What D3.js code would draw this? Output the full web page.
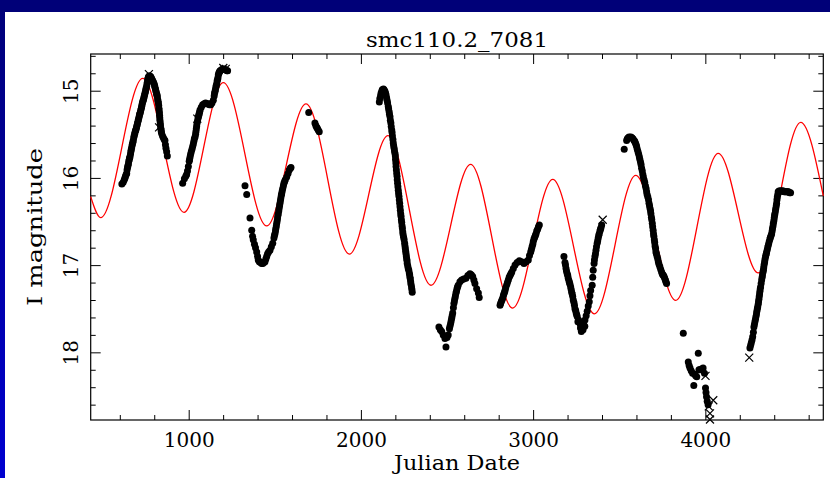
<!DOCTYPE html>
<html><head><meta charset="utf-8">
<script src="https://cdn.jsdelivr.net/npm/d3@7"></script>
<style>
body{margin:0;background:#fff;}
svg{display:block;}
text{font-family:"DejaVu Serif",serif;fill:#000;}
</style>
</head><body>
<svg id="chart" width="830" height="478"></svg>
<script>
const chartTitle = "smc110.2_7081";
const xLabel = "Julian Date";
const yLabel = "I magnitude";
const xMajorTicks = [1000, 2000, 3000, 4000];
const yMajorTicks = [15, 16, 17, 18];
const xDomain = [431, 4685];
const yDomain = [14.579, 18.776];

// model curve extrema (red line)
const modelJD  = [431, 489, 733, 973, 1201, 1453, 1681, 1933, 2157, 2407, 2637, 2881, 3114, 3356, 3596, 3828, 4075, 4307, 4554, 4685];
const modelMag = [16.215, 16.456, 14.858, 16.394, 14.908, 16.551, 15.152, 16.873, 15.516, 17.231, 15.844, 17.492, 16.016, 17.558, 15.970, 17.404, 15.718, 17.090, 15.362, 16.207];

// observations, one array per season: [JD, I mag]
const season1 = [[612,16.07],[620,16.05],[626,16.02],[633,15.98],[640,15.95],[645,15.88],[650,15.84],[655,15.79],[659,15.76],[664,15.70],[668,15.66],[673,15.61],[678,15.57],[683,15.52],[688,15.48],[693,15.45],[698,15.41],[703,15.37],[708,15.33],[713,15.29],[717,15.26],[722,15.22],[727,15.18],[731,15.14],[736,15.11],[741,15.07],[746,15.03],[751,14.99],[756,14.95],[760,14.90],[765,14.85],[770,14.83],[775,14.83],[780,14.84],[785,14.86],[790,14.88],[795,14.90],[799,14.92],[804,14.96],[809,15.00],[814,15.04],[818,15.07],[822,15.12],[826,15.17],[828,15.22],[831,15.28],[833,15.34],[836,15.40],[840,15.45],[843,15.49],[848,15.52],[853,15.54],[858,15.56],[862,15.57],[865,15.62],[868,15.66],[872,15.70],[876,15.75],
  [630,16.00],[637,15.96],[642,15.91],[647,15.86],[652,15.81],[657,15.77],[662,15.73],[666,15.68],[671,15.63],[676,15.59],[681,15.54],[686,15.50],[691,15.46],[696,15.43],[701,15.39],[706,15.35],[711,15.31],[715,15.27],[720,15.24],[725,15.20],[729,15.16],[734,15.12],[739,15.09],[744,15.05],[749,15.01],[753,14.97],[758,14.92],[762,14.87],[767,14.84],[802,14.94],[807,14.98],[812,15.02],[816,15.05],[820,15.10],[824,15.14],[827,15.20],[830,15.25],[832,15.31],[835,15.37],[838,15.43],[841,15.47]];
const season2 = [[965,16.06],[975,16.01],[983,15.98],[988,15.96],[993,15.92],[998,15.87],[1003,15.81],[1008,15.76],[1015,15.70],[1023,15.64],[1030,15.58],[1037,15.53],[1042,15.47],[1046,15.41],[1051,15.35],[1056,15.30],[1061,15.26],[1066,15.22],[1073,15.19],[1081,15.16],[1090,15.15],[1098,15.14],[1105,15.15],[1113,15.15],[1120,15.16],[1128,15.16],[1135,15.14],[1143,15.11],[1148,15.06],[1153,15.01],[1158,14.96],[1163,14.92],[1168,14.87],[1172,14.82],[1177,14.79],[1182,14.77],[1190,14.76],[1198,14.75],[1206,14.75],[1214,14.76],[1222,14.77],[1226,14.77],
  [1005,15.79],[1011,15.73],[1019,15.67],[1027,15.61],[1033,15.55],[1040,15.50],[1044,15.44],[1048,15.38],[1054,15.32],[1059,15.28],[1064,15.24],[1150,15.03],[1155,14.99],[1160,14.94],[1165,14.89],[1170,14.85],[1175,14.80],[1180,14.78]];
const season3 = [[1327,16.09],[1337,16.19],[1356,16.46],[1366,16.60],[1371,16.67],[1375,16.71],[1382,16.76],[1388,16.80],[1395,16.85],[1400,16.90],[1404,16.94],[1410,16.96],[1417,16.97],[1424,16.98],[1430,16.98],[1437,16.97],[1443,16.96],[1448,16.93],[1453,16.90],[1458,16.87],[1464,16.85],[1472,16.83],[1480,16.79],[1488,16.75],[1495,16.69],[1501,16.64],[1506,16.58],[1511,16.52],[1516,16.46],[1520,16.41],[1525,16.35],[1530,16.29],[1535,16.23],[1540,16.18],[1546,16.12],[1553,16.06],[1561,16.02],[1569,15.99],[1577,15.95],[1584,15.91],[1590,15.89],[1594,15.88],
  [1498,16.66],[1504,16.61],[1509,16.55],[1514,16.49],[1518,16.43],[1523,16.38],[1528,16.32],[1533,16.26],[1538,16.20],[1543,16.15],[1550,16.09],[1557,16.04]];
const season4 = [[1697,15.25],[1733,15.37],[1738,15.40],[1743,15.42],[1747,15.43],[1752,15.45],[1758,15.47]];
const season5 = [[2107,15.13],[2114,15.06],[2121,15.01],[2127,14.99],[2134,14.99],[2140,15.01],[2146,15.05],[2152,15.11],[2159,15.18],[2164,15.24],[2169,15.30],[2174,15.37],[2179,15.45],[2183,15.52],[2188,15.60],[2193,15.66],[2198,15.72],[2201,15.79],[2204,15.87],[2208,15.95],[2211,16.02],[2215,16.10],[2219,16.18],[2223,16.25],[2227,16.33],[2231,16.41],[2235,16.48],[2239,16.55],[2243,16.62],[2248,16.68],[2254,16.75],[2258,16.81],[2262,16.87],[2266,16.93],[2269,16.98],[2275,17.04],[2281,17.09],[2285,17.14],[2289,17.19],[2294,17.25],[2298,17.31],
  [2110,15.09],[2117,15.03],[2124,14.99],[2131,14.98],[2137,15.00],[2143,15.03],[2149,15.08],[2155,15.14],[2161,15.21],[2166,15.27],[2171,15.34],[2176,15.41],[2181,15.48],[2186,15.56],[2190,15.63],[2195,15.69],[2200,15.75],[2203,15.83],[2206,15.91],[2210,15.98],[2213,16.06],[2217,16.14],[2221,16.21],[2225,16.29],[2229,16.37],[2233,16.44],[2237,16.51],[2241,16.58],[2245,16.65],[2251,16.71],[2256,16.78],[2260,16.84],[2264,16.90],[2268,16.95],[2272,17.01],[2278,17.06],[2283,17.11],[2287,17.16],[2291,17.22],[2296,17.28]];
const season6 = [[2453,17.71],[2461,17.74],[2469,17.76],[2478,17.80],[2488,17.84],[2494,17.94],[2500,17.83],[2507,17.80],[2514,17.73],[2521,17.67],[2527,17.61],[2533,17.55],[2537,17.49],[2540,17.44],[2546,17.38],[2552,17.32],[2558,17.27],[2565,17.23],[2575,17.19],[2585,17.17],[2597,17.16],[2610,17.15],[2621,17.12],[2633,17.10],[2641,17.11],[2649,17.13],[2656,17.17],[2662,17.21],[2672,17.27],[2682,17.32],[2687,17.37],
  [2517,17.70],[2524,17.64],[2530,17.58],[2543,17.41],[2549,17.35],[2555,17.30],[2561,17.25]];
const season7 = [[2808,17.46],[2815,17.42],[2823,17.38],[2830,17.33],[2837,17.29],[2846,17.23],[2856,17.17],[2866,17.12],[2876,17.08],[2885,17.04],[2895,17.00],[2907,16.97],[2920,16.95],[2933,16.96],[2947,16.98],[2960,16.96],[2972,16.94],[2979,16.89],[2986,16.85],[2994,16.79],[3001,16.73],[3009,16.68],[3017,16.64],[3026,16.59],[3036,16.54],
  [2811,17.44],[2819,17.40],[2827,17.35],[2834,17.31],[2841,17.26],[2851,17.20],[2861,17.14],[2871,17.10],[2990,16.82],[2998,16.76],[3005,16.70],[3013,16.66],[3021,16.61],[3031,16.56]];
const season8 = [[3179,16.90],[3185,16.97],[3191,17.04],[3198,17.10],[3204,17.15],[3211,17.20],[3218,17.25],[3224,17.31],[3230,17.36],[3237,17.43],[3243,17.50],[3250,17.55],[3256,17.59],[3260,17.65],[3264,17.63],[3272,17.67],[3275,17.72],[3279,17.70],[3280,17.76],[3285,17.73],[3290,17.74],[3293,17.68],[3300,17.70],[3301,17.63],[3308,17.58],[3314,17.53],[3320,17.47],[3326,17.42],[3330,17.35],[3334,17.29],[3343,17.23],[3346,17.14],[3349,17.06],[3354,16.98],[3359,16.90],[3365,16.83],[3372,16.75],[3378,16.69],[3384,16.64],[3391,16.59],[3398,16.54],
  [3188,17.00],[3194,17.07],[3201,17.12],[3208,17.18],[3214,17.22],[3221,17.28],[3227,17.33],[3233,17.40],[3240,17.46],[3247,17.52],[3253,17.57],[3356,16.94],[3362,16.87],[3368,16.79],[3375,16.72],[3381,16.66],[3388,16.61],[3394,16.57]];
const season9 = [[3529,15.67],[3543,15.57],[3552,15.54],[3562,15.54],[3574,15.54],[3586,15.57],[3594,15.60],[3601,15.64],[3609,15.70],[3617,15.76],[3624,15.82],[3630,15.89],[3637,15.96],[3644,16.02],[3652,16.09],[3659,16.16],[3666,16.22],[3673,16.29],[3679,16.35],[3684,16.41],[3689,16.48],[3694,16.56],[3699,16.64],[3704,16.71],[3708,16.78],[3713,16.85],[3720,16.90],[3727,16.96],[3736,17.02],[3746,17.08],[3753,17.11],[3760,17.13],[3768,17.17],[3775,17.21],
  [3547,15.55],[3557,15.53],[3568,15.53],[3580,15.55],[3590,15.58],[3598,15.62],[3605,15.67],[3613,15.73],[3620,15.79],[3627,15.85],[3634,15.92],[3640,15.99],[3648,16.05],[3656,16.12],[3662,16.19],[3670,16.25],[3676,16.32],[3682,16.38],[3687,16.45],[3692,16.52],[3697,16.60],[3701,16.67],[3706,16.74],[3711,16.81],[3716,16.87],[3724,16.93],[3731,16.99],[3741,17.05],[3750,17.10],[3757,17.12],[3764,17.15],[3771,17.19]];
const season10 = [[3872,17.78],[3901,18.11],[3906,18.15],[3911,18.18],[3918,18.21],[3926,18.24],[3933,18.38],[3938,18.25],[3944,18.27],[3950,18.28],[3959,18.01],[3963,18.20],[3969,18.20],[3978,18.19],[3987,18.18],[3995,18.24],[4001,18.41],[4004,18.46],[4007,18.51],[4011,18.56],[4016,18.60]];
const season11 = [[4259,17.95],[4267,17.89],[4275,17.82],[4282,17.71],[4288,17.65],[4294,17.59],[4299,17.53],[4304,17.48],[4309,17.42],[4313,17.36],[4317,17.30],[4321,17.25],[4327,17.17],[4332,17.11],[4337,17.06],[4341,17.00],[4346,16.94],[4351,16.89],[4356,16.85],[4363,16.79],[4371,16.73],[4378,16.68],[4385,16.64],[4390,16.58],[4395,16.52],[4400,16.46],[4404,16.41],[4409,16.35],[4414,16.29],[4418,16.22],[4423,16.16],[4433,16.15],[4443,16.15],[4453,16.15],[4463,16.16],[4472,16.16],[4483,16.16],[4495,16.17],
  [4263,17.92],[4271,17.86],[4279,17.77],[4285,17.68],[4291,17.62],[4297,17.56],[4302,17.50],[4307,17.45],[4311,17.39],[4315,17.33],[4319,17.27],[4324,17.21],[4330,17.14],[4335,17.08],[4339,17.03],[4344,16.97],[4349,16.91],[4354,16.87],[4360,16.82],[4367,16.76],[4375,16.70],[4382,16.66],[4388,16.61],[4393,16.55],[4398,16.49],[4402,16.43],[4407,16.38],[4412,16.32],[4416,16.25],[4421,16.19],[4428,16.15],[4438,16.15],[4448,16.15],[4458,16.16],[4468,16.16],[4478,16.16],[4489,16.17]];
// flagged observations drawn as crosses
const flagged = [[769,14.81],[828,15.42],[1050,15.32],[1201,14.74],[1215,14.75],[3404,16.48],[4001,18.27],[4020,18.62],[4027,18.70],[4027,18.77],[4046,18.55],[4255,18.06]];

const seasons = [season1, season2, season3, season4, season5, season6, season7, season8, season9, season10, season11];

const W = 830, H = 478;
const margin = {left: 90.7, right: 830 - 823.3, top: 54, bottom: 478 - 420};
const svg = d3.select("#chart");

// page frame (navy border bands)
const defs = svg.append("defs");
const grad = defs.append("linearGradient").attr("id","lb").attr("x1",0).attr("y1",0).attr("x2",0).attr("y2",1);
grad.append("stop").attr("offset","0%").attr("stop-color","#000078");
grad.append("stop").attr("offset","100%").attr("stop-color","#0000d0");
svg.append("rect").attr("x",0).attr("y",0).attr("width",W).attr("height",H).attr("fill","#fff");
svg.append("rect").attr("x",0).attr("y",0).attr("width",5).attr("height",H).attr("fill","url(#lb)");
svg.append("rect").attr("x",0).attr("y",0).attr("width",W).attr("height",12).attr("fill","#000078");

const x = d3.scaleLinear().domain(xDomain).range([margin.left, W - margin.right]);
const y = d3.scaleLinear().domain(yDomain).range([margin.top, H - margin.bottom]);

const xMinor = d3.range(600, 4685, 200).filter(v => !xMajorTicks.includes(v));
const yMinor = d3.range(14.6, 18.78, 0.2).map(v => +v.toFixed(1)).filter(v => !yMajorTicks.includes(v));

const ax = svg.append("g").attr("class","axes");
function styleAxis(g){ g.select(".domain").remove(); g.selectAll("line").attr("stroke","#000").attr("stroke-width",1); }

// bottom
ax.append("g").attr("transform",`translate(0,${H-margin.bottom})`)
  .call(d3.axisBottom(x).tickValues(xMajorTicks).tickSize(-10).tickPadding(13).tickFormat(d3.format("d")))
  .call(styleAxis)
  .selectAll("text").attr("font-size",20).attr("font-family","DejaVu Serif");
ax.append("g").attr("transform",`translate(0,${H-margin.bottom})`)
  .call(d3.axisBottom(x).tickValues(xMinor).tickSize(-5).tickFormat(""))
  .call(styleAxis);
// top
ax.append("g").attr("transform",`translate(0,${margin.top})`)
  .call(d3.axisTop(x).tickValues(xMajorTicks).tickSize(-10).tickFormat(""))
  .call(styleAxis);
ax.append("g").attr("transform",`translate(0,${margin.top})`)
  .call(d3.axisTop(x).tickValues(xMinor).tickSize(-5).tickFormat(""))
  .call(styleAxis);
// left
const gl = ax.append("g").attr("transform",`translate(${margin.left},0)`)
  .call(d3.axisLeft(y).tickValues(yMajorTicks).tickSize(-10).tickFormat(d3.format("d")))
  .call(styleAxis);
gl.selectAll("text").attr("font-size",20).attr("font-family","DejaVu Serif")
  .attr("transform","rotate(-90)").attr("x",0).attr("y",-13).attr("dy",0).attr("text-anchor","middle");
ax.append("g").attr("transform",`translate(${margin.left},0)`)
  .call(d3.axisLeft(y).tickValues(yMinor).tickSize(-5).tickFormat(""))
  .call(styleAxis);
// right
ax.append("g").attr("transform",`translate(${W-margin.right},0)`)
  .call(d3.axisRight(y).tickValues(yMajorTicks).tickSize(-10).tickFormat(""))
  .call(styleAxis);
ax.append("g").attr("transform",`translate(${W-margin.right},0)`)
  .call(d3.axisRight(y).tickValues(yMinor).tickSize(-5).tickFormat(""))
  .call(styleAxis);

// frame
svg.append("rect").attr("x",margin.left).attr("y",margin.top)
  .attr("width",W-margin.right-margin.left).attr("height",H-margin.bottom-margin.top)
  .attr("fill","none").attr("stroke","#000").attr("stroke-width",1.2);

// model line
const model = modelJD.map((d,i)=>[d, modelMag[i]]);
svg.append("path").datum(model)
  .attr("d", d3.line().x(d=>x(d[0])).y(d=>y(d[1])).curve(d3.curveMonotoneX))
  .attr("fill","none").attr("stroke","#ff0000").attr("stroke-width",1.3);

// observations
const obs = seasons.flat();
svg.append("g").selectAll("circle").data(obs).join("circle")
  .attr("cx",d=>x(d[0])).attr("cy",d=>y(d[1])).attr("r",3.5).attr("fill","#000");

svg.append("g").selectAll("path").data(flagged).join("path")
  .attr("transform",d=>`translate(${x(d[0])},${y(d[1])})`)
  .attr("d","M-4,-4L4,4M-4,4L4,-4").attr("stroke","#000").attr("stroke-width",1.2).attr("fill","none");

// texts
const cx = (margin.left + W - margin.right)/2;
svg.append("text").attr("x",cx).attr("y",47).attr("text-anchor","middle").attr("font-size",21)
  .attr("textLength",182).attr("lengthAdjust","spacingAndGlyphs").text(chartTitle);
svg.append("text").attr("x",cx).attr("y",470).attr("text-anchor","middle").attr("font-size",21)
  .attr("textLength",126).attr("lengthAdjust","spacingAndGlyphs").text(xLabel);
svg.append("text").attr("transform",`translate(42,227) rotate(-90)`).attr("text-anchor","middle").attr("font-size",21)
  .attr("textLength",158).attr("lengthAdjust","spacingAndGlyphs").text(yLabel);
</script>
</body></html>
